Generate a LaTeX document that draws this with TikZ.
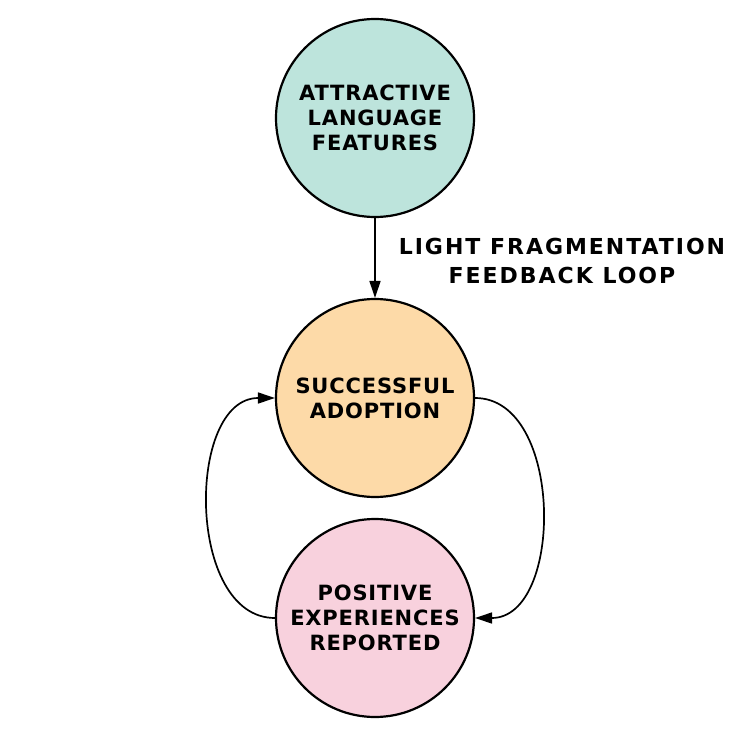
\documentclass[tikz,border=0pt]{standalone}
\usepackage{fontspec}
\setmainfont{DejaVu Sans}[BoldFont={DejaVu Sans Bold}]
\newfontfamily\circfont{DejaVu Sans Bold}[LetterSpace=4]
\newfontfamily\labfont{DejaVu Sans Bold}[LetterSpace=9]
\usetikzlibrary{arrows.meta}
\definecolor{cteal}{HTML}{BDE4DC}
\definecolor{corange}{HTML}{FDDAA8}
\definecolor{cpink}{HTML}{F8D1DD}
\tikzset{
  bubble/.style={circle, draw=black, line width=2.2pt, minimum size=198pt, inner sep=0pt,
    align=center, font=\circfont\fontsize{21}{25}\selectfont},
  conn/.style={line width=1.7pt, -{Triangle[length=17pt,width=11pt]}},
  lab/.style={align=center, font=\labfont\fontsize{22}{29}\selectfont}
}
\begin{document}
\begin{tikzpicture}[x=1pt,y=-1pt]
\useasboundingbox (0,0) rectangle (750,747);
\fill[white] (0,0) rectangle (750,747);
\node[bubble, fill=cteal] (attr) at (375,118) {ATTRACTIVE\\LANGUAGE\\FEATURES};
\node[bubble, fill=corange] (adopt) at (375,398) {SUCCESSFUL\\ADOPTION};
\node[bubble, fill=cpink] (pos) at (375,618) {POSITIVE\\EXPERIENCES\\REPORTED};
\node[lab] (loop) at (562,261) {LIGHT FRAGMENTATION\\FEEDBACK LOOP};
\draw[conn] (attr.south) -- (adopt.north);
\draw[conn] (pos.west) .. controls +(-89,0) and +(-89,0) .. (adopt.west);
\draw[conn] (adopt.east) .. controls +(89,0) and +(89,0) .. (pos.east);
\end{tikzpicture}
\end{document}
